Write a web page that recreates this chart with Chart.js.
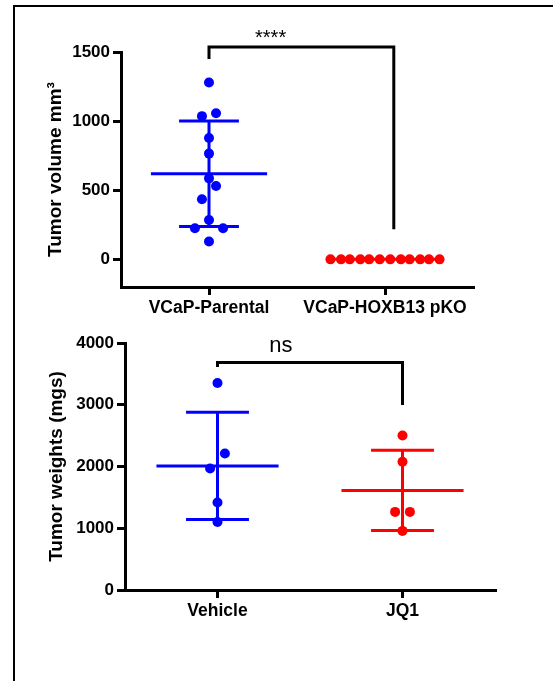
<!DOCTYPE html>
<html>
<head>
<meta charset="utf-8">
<script src="https://cdn.jsdelivr.net/npm/chart.js@4/dist/chart.umd.min.js"></script>
<style>
  html, body { margin: 0; padding: 0; background: #fff; overflow: hidden; }
  #wrap { position: relative; width: 553px; height: 681px; overflow: hidden; }
  .rule { position: absolute; background: #000; }
  #ruleTop { left: 13px; top: 5px; width: 540px; height: 2px; }
  #ruleLeft { left: 13px; top: 5px; width: 2px; height: 676px; }
  canvas { position: absolute; left: 0; top: 0; }
</style>
</head>
<body>
<div id="wrap">
  <div class="rule" id="ruleTop"></div>
  <div class="rule" id="ruleLeft"></div>
  <canvas id="volChart" width="553" height="681"></canvas>
  <canvas id="wtChart" width="553" height="681"></canvas>
</div>
<script>
// top panel - tumor volume
const volGroups = ['VCaP-Parental', 'VCaP-HOXB13 pKO'];
const volTicks = [0, 500, 1000, 1500];
const volParental = [1280, 1057, 1036, 878, 765, 586, 531, 435, 285, 225, 225, 129];
const volParentalJitter = [0, 0.04, -0.04, 0, 0, 0, 0.04, -0.04, 0, -0.08, 0.08, 0];
const volKO = [0, 0, 0, 0, 0, 0, 0, 0, 0, 0, 0, 0];
const volKOJitter = [-0.31, -0.25, -0.2, -0.14, -0.09, -0.03, 0.03, 0.09, 0.14, 0.2, 0.25, 0.31];
const volMean = [619, 0];
const volSD = [381, 0];
const volBracketX = [1, 2.05];
const volBracketY = [1449, 1536, 217];   // left foot, top, right foot
const volSig = '****';

// bottom panel - tumor weight
const wtGroups = ['Vehicle', 'JQ1'];
const wtTicks = [0, 1000, 2000, 3000, 4000];
const wtVehicle = [3351, 2211, 1967, 1416, 1103];
const wtVehicleJitter = [0, 0.04, -0.04, 0, 0];
const wtJQ1 = [2503, 2076, 1265, 1265, 957];
const wtJQ1Jitter = [0, 0, -0.04, 0.04, 0];
const wtMean = [2010, 1613];
const wtSD = [868, 650];
const wtBracketX = [1, 2];
const wtBracketY = [3611, 3684, 2996];
const wtSig = 'ns';

const BLUE = '#0000ff';
const RED = '#ff0000';
const FONT = "'Liberation Sans', Arial, sans-serif";

function dots(values, jitter, group, color) {
    return {
        data: values.map((v, i) => ({ x: group + jitter[i], y: v })),
        backgroundColor: color,
        borderColor: color,
        borderWidth: 0,
        pointRadius: 5,
        pointHoverRadius: 5
    };
}

// mean line + sd whiskers with caps, gaps split the segments
function errBar(mean, sd, group, color) {
    const c = group, half = 0.33, cap = 0.17;
    const gap = { x: c, y: null };
    return {
        data: [
            { x: c - half, y: mean }, { x: c + half, y: mean }, gap,
            { x: c, y: mean - sd }, { x: c, y: mean + sd }, gap,
            { x: c - cap, y: mean + sd }, { x: c + cap, y: mean + sd }, gap,
            { x: c - cap, y: mean - sd }, { x: c + cap, y: mean - sd }
        ],
        showLine: true,
        spanGaps: false,
        borderColor: color,
        borderWidth: 3,
        pointRadius: 0,
        pointHoverRadius: 0
    };
}

function bracket(bx, by) {
    return {
        data: [
            { x: bx[0], y: by[0] }, { x: bx[0], y: by[1] },
            { x: bx[1], y: by[1] }, { x: bx[1], y: by[2] }
        ],
        showLine: true,
        borderColor: '#000',
        borderWidth: 3,
        borderJoinStyle: 'miter',
        pointRadius: 0,
        pointHoverRadius: 0,
        clip: false
    };
}

const sigText = {
    id: 'sigText',
    afterDatasetsDraw(chart, args, opts) {
        const { ctx, scales: { x, y } } = chart;
        ctx.save();
        ctx.font = opts.font;
        ctx.fillStyle = '#000';
        ctx.textAlign = 'center';
        ctx.textBaseline = 'alphabetic';
        ctx.fillText(opts.text, x.getPixelForValue(opts.x), y.getPixelForValue(opts.y));
        ctx.restore();
    }
};

function axisBits(tickLen) {
    return {
        grid: { drawOnChartArea: false, drawTicks: true, tickLength: tickLen, lineWidth: 3, color: '#000' },
        border: { display: true, color: '#000', width: 3 }
    };
}

function makePanel(id, p) {
    return new Chart(document.getElementById(id), {
        type: 'scatter',
        data: { datasets: p.datasets },
        options: {
            responsive: false,
            animation: false,
            events: [],
            layout: { padding: p.padding },
            plugins: {
                legend: { display: false },
                tooltip: { enabled: false },
                sigText: p.sig
            },
            scales: {
                x: {
                    type: 'linear',
                    min: 0.5,
                    max: 2.5,
                    ...axisBits(8),
                    afterBuildTicks: (s) => { s.ticks = [{ value: 1 }, { value: 2 }]; },
                    afterFit: (s) => { s.height = 40; },
                    ticks: {
                        autoSkip: false,
                        maxRotation: 0,
                        padding: 3,
                        color: '#000',
                        font: { family: FONT, size: 17.5, weight: 'bold' },
                        callback: (v) => p.groups[Math.round(v) - 1]
                    }
                },
                y: {
                    type: 'linear',
                    min: p.yMin,
                    max: p.yMax,
                    ...axisBits(8),
                    afterBuildTicks: (s) => { s.ticks = p.yTicks.map(v => ({ value: v })); },
                    afterFit: (s) => { s.width = p.yWidth; },
                    ticks: {
                        padding: 3,
                        color: '#000',
                        font: { family: FONT, size: 17, weight: 'bold' },
                        callback: (v) => String(v)
                    },
                    title: {
                        display: true,
                        text: p.yTitle,
                        color: '#000',
                        font: { family: FONT, size: 19, weight: 'bold' },
                        padding: { top: 4, bottom: 4 }
                    }
                }
            }
        },
        plugins: [sigText]
    });
}

makePanel('volChart', {
    groups: volGroups,
    yTicks: volTicks,
    yMin: -200,
    yMax: 1500,
    yWidth: 81,
    yTitle: 'Tumor volume mm³',
    padding: { left: 40, top: 52, right: 80, bottom: 354 },
    sig: { text: volSig, x: 1.35, y: 1558, font: '20px ' + FONT },
    datasets: [
        dots(volParental, volParentalJitter, 1, BLUE),
        dots(volKO, volKOJitter, 2, RED),
        errBar(volMean[0], volSD[0], 1, BLUE),
        errBar(volMean[1], volSD[1], 2, RED),
        bracket(volBracketX, volBracketY)
    ]
});

makePanel('wtChart', {
    groups: wtGroups,
    yTicks: wtTicks,
    yMin: 0,
    yMax: 4000,
    yWidth: 84,
    yTitle: 'Tumor weights (mgs)',
    padding: { left: 41, top: 343, right: 58, bottom: 51 },
    sig: { text: wtSig, x: 1.343, y: 3853, font: '22px ' + FONT },
    datasets: [
        dots(wtVehicle, wtVehicleJitter, 1, BLUE),
        dots(wtJQ1, wtJQ1Jitter, 2, RED),
        errBar(wtMean[0], wtSD[0], 1, BLUE),
        errBar(wtMean[1], wtSD[1], 2, RED),
        bracket(wtBracketX, wtBracketY)
    ]
});
</script>
</body>
</html>
